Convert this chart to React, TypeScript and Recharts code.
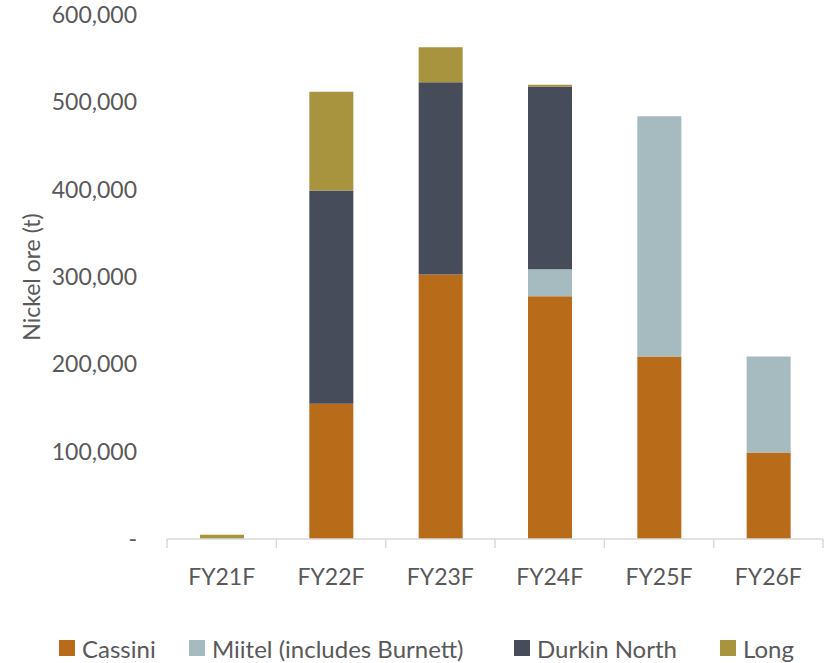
import { Bar, BarChart, Legend, XAxis, YAxis } from "recharts";

const categories = ["FY21F", "FY22F", "FY23F", "FY24F", "FY25F", "FY26F"];
const cassini = [0, 155000, 303000, 278000, 209000, 99000];
const miitel = [0, 0, 0, 31000, 275000, 110000];
const durkinNorth = [0, 244000, 220000, 209000, 0, 0];
const long = [5000, 113000, 40000, 2000, 0, 0];
const yTicks = [0, 100000, 200000, 300000, 400000, 500000, 600000];

const seriesNames = {
  cassini: "Cassini",
  miitel: "Miitel (includes Burnett)",
  durkinNorth: "Durkin North",
  long: "Long",
};
const colors = {
  cassini: "#B86B19",
  miitel: "#A5BBBF",
  durkinNorth: "#464C5A",
  long: "#A8933E",
};

const data = categories.map((name, i) => ({
  name,
  cassini: cassini[i],
  miitel: miitel[i],
  durkinNorth: durkinNorth[i],
  long: long[i],
}));

const WIDTH = 829;
const HEIGHT = 663;
const AXIS_W = 167;
const RIGHT = 6;
const LEGEND_H = 30;
const BAND = (WIDTH - AXIS_W - RIGHT) / categories.length;
const FONT = "Lato, 'Open Sans', sans-serif";
const TEXT = "#595959";
const AXIS = "#D9D9D9";

// legend entries sit at fixed x offsets along the bottom row
const legendKeys = ["cassini", "miitel", "durkinNorth", "long"] as const;
const legendLeft = [59, 189, 514, 720];

const fmt = (v: number) => (v === 0 ? "-" : v.toLocaleString("en-US"));

function CategoryTick(props: any) {
  const { x, y, payload, index } = props;
  const last = index === categories.length - 1;
  return (
    <g>
      <line x1={x - BAND / 2} x2={x - BAND / 2} y1={y} y2={y + 9} stroke={AXIS} strokeWidth={1.5} />
      {last && <line x1={x + BAND / 2} x2={x + BAND / 2} y1={y} y2={y + 9} stroke={AXIS} strokeWidth={1.5} />}
      <text x={x} y={y + 46} textAnchor="middle" fill={TEXT} fontSize={23} fontFamily={FONT}>
        {payload.value}
      </text>
    </g>
  );
}

function LegendContent() {
  return (
    <div style={{ position: "relative", height: LEGEND_H, fontFamily: FONT, fontSize: 24, color: TEXT }}>
      {legendKeys.map((k, i) => (
        <div
          key={k}
          style={{
            position: "absolute",
            left: legendLeft[i],
            top: 0,
            height: LEGEND_H,
            display: "flex",
            alignItems: "center",
            gap: 7,
            whiteSpace: "nowrap",
          }}
        >
          <span style={{ width: 16, height: 16, background: colors[k], display: "inline-block" }} />
          <span>{seriesNames[k]}</span>
        </div>
      ))}
    </div>
  );
}

export default function App() {
  return (
    <div style={{ position: "fixed", left: 0, top: 0, width: WIDTH, height: HEIGHT, background: "#fff" }}>
      <BarChart
        width={WIDTH}
        height={HEIGHT}
        data={data}
        margin={{ top: 15, right: RIGHT, bottom: 0, left: 0 }}
        barSize={44}
      >
        <XAxis
          dataKey="name"
          height={124 - LEGEND_H}
          axisLine={{ stroke: AXIS, strokeWidth: 1.5 }}
          tickLine={false}
          tickSize={0}
          tickMargin={0}
          interval={0}
          tick={<CategoryTick />}
        />
        <YAxis
          width={AXIS_W}
          domain={[0, 600000]}
          ticks={yTicks}
          tickFormatter={fmt}
          axisLine={false}
          tickLine={false}
          tickSize={0}
          tickMargin={30}
          tick={{ fill: TEXT, fontSize: 23, fontFamily: FONT }}
          label={{
            value: "Nickel ore (t)",
            angle: -90,
            position: "center",
            dx: -52,
            fill: TEXT,
            fontSize: 23,
            fontFamily: FONT,
          }}
        />
        <Legend
          content={<LegendContent />}
          height={LEGEND_H}
          wrapperStyle={{ position: "absolute", top: 633, left: 0, width: WIDTH, height: LEGEND_H }}
        />
        <Bar dataKey="cassini" name={seriesNames.cassini} stackId="a" fill={colors.cassini} isAnimationActive={false} />
        <Bar dataKey="miitel" name={seriesNames.miitel} stackId="a" fill={colors.miitel} isAnimationActive={false} />
        <Bar dataKey="durkinNorth" name={seriesNames.durkinNorth} stackId="a" fill={colors.durkinNorth} isAnimationActive={false} />
        <Bar dataKey="long" name={seriesNames.long} stackId="a" fill={colors.long} isAnimationActive={false} />
      </BarChart>
    </div>
  );
}
